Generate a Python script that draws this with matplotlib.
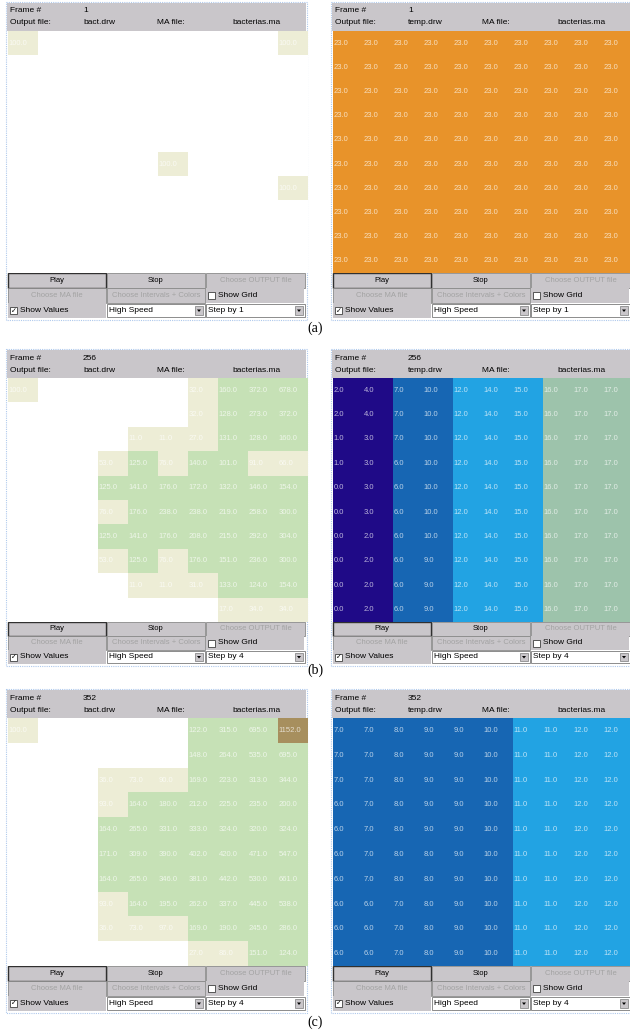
import numpy as np
import matplotlib
matplotlib.use("Agg")
import matplotlib.pyplot as plt
from matplotlib import font_manager
from matplotlib.colors import ListedColormap, BoundaryNorm, to_rgb
from matplotlib.patches import Rectangle, Polygon

_names = {f.name for f in font_manager.fontManager.ttflist}
UI_FONT = 'Liberation Sans Narrow' if 'Liberation Sans Narrow' in _names else 'Liberation Sans'

E = np.nan  # empty cell

# --- data: bacteria grids (left) and temperature grids (right) ---
bact_a = [
    [100, E, E, E, E, E, E, E, E, 100],
    [E, E, E, E, E, E, E, E, E, E],
    [E, E, E, E, E, E, E, E, E, E],
    [E, E, E, E, E, E, E, E, E, E],
    [E, E, E, E, E, E, E, E, E, E],
    [E, E, E, E, E, 100, E, E, E, E],
    [E, E, E, E, E, E, E, E, E, 100],
    [E, E, E, E, E, E, E, E, E, E],
    [E, E, E, E, E, E, E, E, E, E],
    [E, E, E, E, E, E, E, E, E, E],
]
temp_a = [[23.0] * 10 for _ in range(10)]

bact_b = [
    [100, E, E, E, E, E, 32, 160, 372, 678],
    [E, E, E, E, E, E, 32, 128, 273, 372],
    [E, E, E, E, 11, 11, 27, 131, 128, 160],
    [E, E, E, 53, 125, 76, 140, 101, 91, 66],
    [E, E, E, 125, 141, 176, 172, 132, 146, 154],
    [E, E, E, 76, 176, 238, 238, 219, 258, 300],
    [E, E, E, 125, 141, 176, 208, 215, 292, 304],
    [E, E, E, 53, 125, 76, 176, 151, 236, 300],
    [E, E, E, E, 11, 11, 31, 133, 124, 154],
    [E, E, E, E, E, E, E, 17, 34, 34],
]
temp_b = [
    [2, 4, 7, 10, 12, 14, 15, 16, 17, 17],
    [2, 4, 7, 10, 12, 14, 15, 16, 17, 17],
    [1, 3, 7, 10, 12, 14, 15, 16, 17, 17],
    [1, 3, 6, 10, 12, 14, 15, 16, 17, 17],
    [0, 3, 6, 10, 12, 14, 15, 16, 17, 17],
    [0, 3, 6, 10, 12, 14, 15, 16, 17, 17],
    [0, 2, 6, 10, 12, 14, 15, 16, 17, 17],
    [0, 2, 6, 9, 12, 14, 15, 16, 17, 17],
    [0, 2, 6, 9, 12, 14, 15, 16, 17, 17],
    [0, 2, 6, 9, 12, 14, 15, 16, 17, 17],
]

bact_c = [
    [100, E, E, E, E, E, 122, 315, 695, 1152],
    [E, E, E, E, E, E, 148, 264, 535, 695],
    [E, E, E, 36, 73, 90, 169, 223, 313, 344],
    [E, E, E, 93, 164, 180, 212, 225, 235, 200],
    [E, E, E, 164, 265, 331, 333, 324, 320, 324],
    [E, E, E, 171, 309, 390, 402, 420, 471, 547],
    [E, E, E, 164, 265, 346, 381, 442, 530, 661],
    [E, E, E, 93, 164, 195, 262, 337, 445, 538],
    [E, E, E, 36, 73, 97, 169, 190, 245, 286],
    [E, E, E, E, E, E, 27, 86, 151, 124],
]
temp_c = [
    [7, 7, 8, 9, 9, 10, 11, 11, 12, 12],
    [7, 7, 8, 9, 9, 10, 11, 11, 12, 12],
    [7, 7, 8, 9, 9, 10, 11, 11, 12, 12],
    [6, 7, 8, 9, 9, 10, 11, 11, 12, 12],
    [6, 7, 8, 9, 9, 10, 11, 11, 12, 12],
    [6, 7, 8, 8, 9, 10, 11, 11, 12, 12],
    [6, 7, 8, 8, 9, 10, 11, 11, 12, 12],
    [6, 6, 7, 8, 9, 10, 11, 11, 12, 12],
    [6, 6, 7, 8, 9, 10, 11, 11, 12, 12],
    [6, 6, 7, 8, 9, 10, 11, 11, 12, 12],
]

frames = [1, 256, 352]
steps = ['Step by 1', 'Step by 4', 'Step by 4']
labels = ['(a)', '(b)', '(c)']

# interval colours used by the simulator
bact_bounds = [0, 100.5, 1000, 100000]
bact_colors = ['#EDEDD6', '#C6E1B6', '#A78F5E']
temp_bounds = [-0.5, 5.5, 10.5, 15.5, 20.5, 100]
temp_colors = ['#1F0A87', '#1766B3', '#22A3E3', '#9DC3AB', '#E8932A']

GREY = '#C9C6CA'
W, H = 630, 1035

fig = plt.figure(figsize=(W / 100, H / 100), dpi=100)
bg = fig.add_axes([0, 0, 1, 1])
bg.set_xlim(0, W)
bg.set_ylim(H, 0)
bg.axis('off')


def ui_text(x, y, s, color='black', size=6, **kw):
    bg.text(x, y, s, fontsize=size, family=UI_FONT, color=color,
            va='center', **kw)


def button(x, y, w, h, s, enabled=True, focus=False):
    bg.add_patch(Rectangle((x, y), w, h, fc=GREY,
                           ec='#303030' if focus else '#8A8A8A',
                           lw=1.0 if focus else 0.6))
    ui_text(x + w / 2, y + h / 2, s, color='black' if enabled else '#A3A3A3',
            ha='center', size=5.5)


def checkbox(x, y, h, s, checked):
    bg.add_patch(Rectangle((x, y), 98, h, fc=GREY, ec='none'))
    bg.add_patch(Rectangle((x + 2, y + h / 2 - 3.5), 7, 7, fc='white',
                           ec='#404040', lw=0.6))
    if checked:
        bg.text(x + 5.5, y + h / 2, '\u2713', fontsize=5, family='DejaVu Sans',
                ha='center', va='center', color='black')
    ui_text(x + 12, y + h / 2, s)


def dropdown(x, y, w, h, s):
    bg.add_patch(Rectangle((x, y + 1), w, h - 2, fc='white', ec='#7A7A7A', lw=0.6))
    ui_text(x + 2, y + h / 2, s)
    bx = x + w - 10
    bg.add_patch(Rectangle((bx, y + 3), 8, h - 6, fc=GREY, ec='#7A7A7A', lw=0.5))
    cy = y + h / 2
    bg.add_patch(Polygon([(bx + 2, cy - 1), (bx + 6, cy - 1), (bx + 4, cy + 1.5)],
                         closed=True, fc='black', ec='none'))


def panel(x0, top, gtop, gbot, bottom, frame, outfile, step, values, bounds, colors):
    bg.add_patch(Rectangle((x0 - 1.5, top - 1.5), 301, bottom - top + 3, fill=False,
                           ec='#AFC9EC', lw=0.8, ls=(0, (1, 1))))
    bg.add_patch(Rectangle((x0, top), 299, gtop - top, fc=GREY, ec='none'))
    ui_text(x0 + 3, top + 8, 'Frame #')
    ui_text(x0 + 76, top + 8, str(frame))
    ui_text(x0 + 3, top + 20, 'Output file:')
    ui_text(x0 + 76, top + 20, outfile)
    ui_text(x0 + 150, top + 20, 'MA file:')
    ui_text(x0 + 225, top + 20, 'bacterias.ma')

    # value grid
    ax = fig.add_axes([(x0 + 1) / W, 1 - gbot / H, 300 / W, (gbot - gtop) / H])
    arr = np.array(values, dtype=float)
    cmap = ListedColormap(colors)
    cmap.set_bad('white')
    norm = BoundaryNorm(bounds, cmap.N)
    ax.pcolormesh(np.arange(11), np.arange(11), np.ma.masked_invalid(arr),
                  cmap=cmap, norm=norm)
    ax.set_xlim(0, 10)
    ax.set_ylim(10, 0)
    ax.axis('off')
    for i in range(arr.shape[0]):
        for j in range(arr.shape[1]):
            v = arr[i, j]
            if np.isnan(v):
                continue
            c = np.array(to_rgb(cmap(norm(v))))
            tc = 0.3 * c + 0.7 * np.ones(3)
            ax.text(j + 0.03, i + 0.5, f'{v:.1f}', fontsize=5.5, family=UI_FONT,
                    color=tc, ha='left', va='center', clip_on=True)

    # control bar
    rh = (bottom - gbot) / 3
    y1, y2, y3 = gbot, gbot + rh, gbot + 2 * rh
    button(x0 + 1, y1, 98, rh, 'Play', focus=True)
    button(x0 + 100, y1, 98, rh, 'Stop')
    button(x0 + 199, y1, 99, rh, 'Choose OUTPUT file', enabled=False)
    button(x0 + 1, y2, 98, rh, 'Choose MA file', enabled=False)
    button(x0 + 100, y2, 98, rh, 'Choose Intervals + Colors', enabled=False)
    checkbox(x0 + 199, y2, rh, 'Show Grid', False)
    checkbox(x0 + 1, y3, rh, 'Show Values', True)
    dropdown(x0 + 100, y3, 98, rh, 'High Speed')
    dropdown(x0 + 199, y3, 99, rh, step)


rows = [
    (3, 31, 273, 318, 328),
    (350, 378, 622, 664, 670),
    (690, 718, 966, 1011, 1022),
]
bact = [bact_a, bact_b, bact_c]
temp = [temp_a, temp_b, temp_c]

for k, (top, gtop, gbot, bottom, ly) in enumerate(rows):
    panel(7, top, gtop, gbot, bottom, frames[k], 'bact.drw', steps[k],
          bact[k], bact_bounds, bact_colors)
    panel(332, top, gtop, gbot, bottom, frames[k], 'temp.drw', steps[k],
          temp[k], temp_bounds, temp_colors)
    bg.text(315, ly, labels[k], fontsize=10, family='Liberation Serif',
            ha='center', va='center')

fig.savefig('out.png', dpi=100)
